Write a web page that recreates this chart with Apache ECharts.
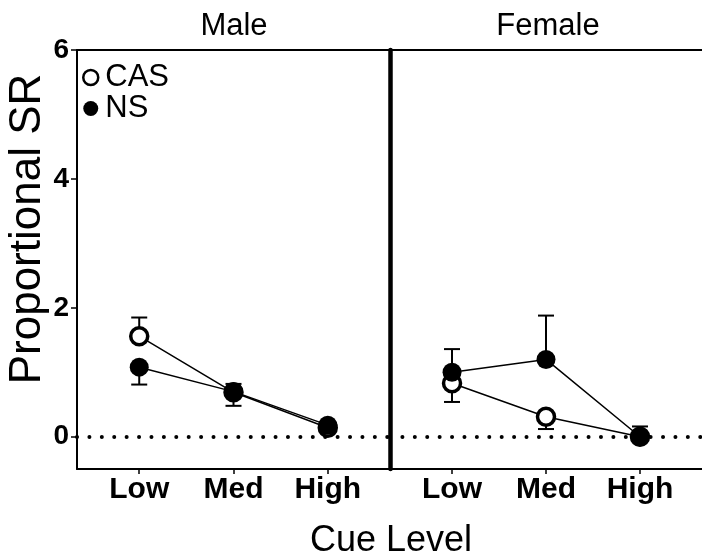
<!DOCTYPE html>
<html lang="en">
<head>
  <meta charset="UTF-8">
  <title>Proportional SR</title>
  <style>
    html,body{margin:0;padding:0;background:#fff;}
    #main{width:702px;height:556px;}
  </style>
</head>
<body>
  <div id="main"></div>
  <script src="https://cdn.jsdelivr.net/npm/echarts@6/dist/echarts.min.js"></script>
  <script>
    const cats=['Low','Med','High'];
    const yTicks=[0,2,4,6];
    const maleCAS=[1.56,0.69,0.14];
    const maleNS=[1.08,0.70,0.18];
    const femaleCAS=[0.83,0.31,0.00];
    const femaleNS=[1.00,1.20,0.00];
    // error bar ends [low, high]
    const maleCASErr=[[1.56,1.85],[0.69,0.82],[0.14,0.20]];
    const maleNSErr=[[0.81,1.08],[0.48,0.70],[0.12,0.18]];
    const femaleCASErr=[[0.54,0.83],[0.12,0.31],[-0.08,0.00]];
    const femaleNSErr=[[1.00,1.36],[1.20,1.88],[0.00,0.16]];

    const chart=echarts.init(document.querySelector('#main'));
    const font='Liberation Sans, Arial, sans-serif';

    const pts=arr=>arr.map((v,i)=>[i,v]);
    const errs=arr=>arr.map((e,i)=>[i,e[0],e[1]]);

    function errRender(params,api){
      const x=api.value(0);
      const lo=api.coord([x,api.value(1)]);
      const hi=api.coord([x,api.value(2)]);
      const w=8;
      const st={stroke:'#000',lineWidth:2};
      return {type:'group',children:[
        {type:'line',shape:{x1:lo[0],y1:lo[1],x2:hi[0],y2:hi[1]},style:st},
        {type:'line',shape:{x1:lo[0]-w,y1:lo[1],x2:lo[0]+w,y2:lo[1]},style:st},
        {type:'line',shape:{x1:hi[0]-w,y1:hi[1],x2:hi[0]+w,y2:hi[1]},style:st}
      ]};
    }

    const casStyle={color:'#fff',borderColor:'#000',borderWidth:3.5};
    const nsStyle={color:'#000',borderColor:'#000',borderWidth:0};

    function xAxes(g){
      return [{
        gridIndex:g,type:'value',min:-0.66,max:2.66,
        axisLine:{show:true,onZero:false,lineStyle:{color:'#000',width:2}},
        axisTick:{show:true,customValues:[0,1,2],length:5,lineStyle:{color:'#000',width:1.5}},
        axisLabel:{customValues:[0,1,2],formatter:v=>cats[v],color:'#000',fontFamily:font,fontWeight:'bold',fontSize:30,margin:6},
        splitLine:{show:false}
      },{
        gridIndex:g,type:'value',position:'top',min:-0.66,max:2.66,
        axisLine:{show:true,onZero:false,lineStyle:{color:'#000',width:2}},
        axisTick:{show:false},axisLabel:{show:false},splitLine:{show:false}
      }];
    }

    const zeroLine={
      silent:true,symbol:'none',label:{show:false},
      lineStyle:{color:'#000',width:4,type:[0.01,12.4],cap:'round'},
      data:[{yAxis:0}]
    };

    const option={
      animation:false,
      title:[
        {text:'Male',left:229,top:6,textAlign:'center',textStyle:{fontFamily:font,fontWeight:'normal',fontSize:31,color:'#000'}},
        {text:'Female',left:543,top:6,textAlign:'center',textStyle:{fontFamily:font,fontWeight:'normal',fontSize:31,color:'#000'}},
        {text:'Cue Level',left:386,top:518,textAlign:'center',textStyle:{fontFamily:font,fontWeight:'normal',fontSize:36,color:'#000'}}
      ],
      graphic:[{
        type:'text',x:28,y:229,rotation:Math.PI/2,
        style:{text:'Proportional SR',fontFamily:font,fontSize:44,fill:'#000',align:'center',verticalAlign:'middle'}
      }],
      legend:{
        orient:'vertical',left:82,top:62,padding:0,itemGap:0,itemWidth:15,itemHeight:15,icon:'circle',
        textStyle:{fontFamily:font,fontSize:31,color:'#000',lineHeight:29,padding:[0,0,0,2]},
        data:[
          {name:'CAS',itemStyle:{color:'#fff',borderColor:'#000',borderWidth:2.5}},
          {name:'NS',itemStyle:{color:'#000'}}
        ]
      },
      grid:[
        {left:77,top:50,width:313,height:419},
        {left:390,top:50,width:313,height:419}
      ],
      xAxis:[...xAxes(0),...xAxes(1)],
      yAxis:[{
        gridIndex:0,type:'value',min:-0.5,max:6,
        axisLine:{show:true,onZero:false,lineStyle:{color:'#000',width:2}},
        axisTick:{show:true,customValues:yTicks,length:6,lineStyle:{color:'#000',width:1.5}},
        axisLabel:{customValues:yTicks,color:'#000',fontFamily:font,fontWeight:'bold',fontSize:28,margin:8},
        splitLine:{show:false}
      },{
        gridIndex:1,type:'value',min:-0.5,max:6,
        axisLine:{show:true,onZero:false,lineStyle:{color:'#000',width:4.5}},
        axisTick:{show:false},axisLabel:{show:false},splitLine:{show:false}
      }],
      series:[
        // male panel
        {type:'custom',name:'errM1',xAxisIndex:0,yAxisIndex:0,renderItem:errRender,data:errs(maleCASErr),z:1,silent:true},
        {type:'custom',name:'errM2',xAxisIndex:0,yAxisIndex:0,renderItem:errRender,data:errs(maleNSErr),z:1,silent:true},
        {type:'line',name:'CAS',xAxisIndex:0,yAxisIndex:0,data:pts(maleCAS),symbol:'circle',symbolSize:17,
          itemStyle:casStyle,lineStyle:{color:'#000',width:1.5},z:2,markLine:zeroLine},
        {type:'line',name:'NS',xAxisIndex:0,yAxisIndex:0,data:pts(maleNS),symbol:'circle',symbolSize:19,
          itemStyle:nsStyle,lineStyle:{color:'#000',width:1.5},z:3},
        // female panel
        {type:'custom',name:'errF1',xAxisIndex:2,yAxisIndex:1,renderItem:errRender,data:errs(femaleCASErr),z:1,silent:true},
        {type:'custom',name:'errF2',xAxisIndex:2,yAxisIndex:1,renderItem:errRender,data:errs(femaleNSErr),z:1,silent:true},
        {type:'line',name:'CAS',xAxisIndex:2,yAxisIndex:1,data:pts(femaleCAS),symbol:'circle',symbolSize:17,
          itemStyle:casStyle,lineStyle:{color:'#000',width:1.5},z:2,markLine:zeroLine},
        {type:'line',name:'NS',xAxisIndex:2,yAxisIndex:1,data:pts(femaleNS),symbol:'circle',symbolSize:19,
          itemStyle:nsStyle,lineStyle:{color:'#000',width:1.5},z:3}
      ]
    };
    chart.setOption(option);
  </script>
</body>
</html>
